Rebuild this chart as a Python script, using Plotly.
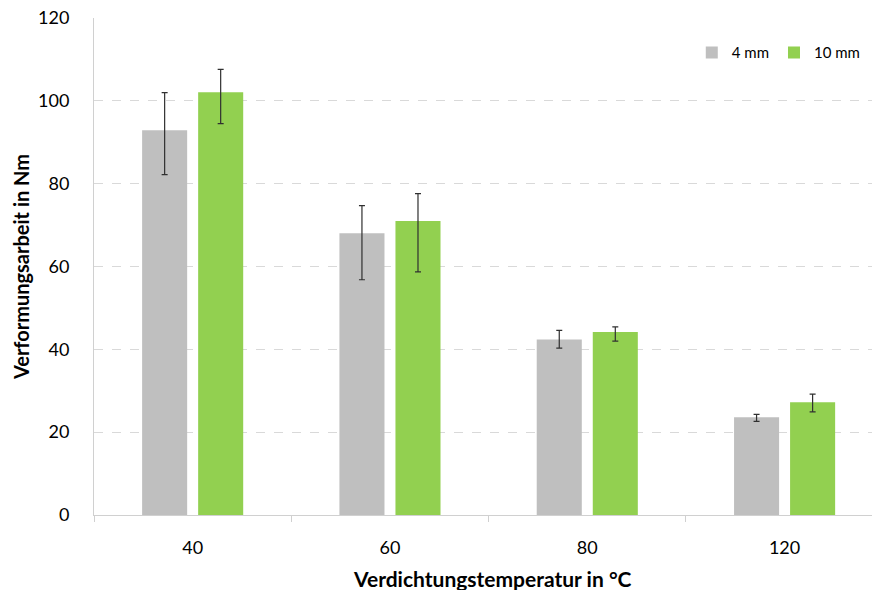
import plotly.graph_objects as go

categories = ["40", "60", "80", "120"]
series_names = ["4 mm", "10 mm"]
values_4mm = [92.9, 68.0, 42.4, 23.6]
err_plus_4mm = [9.1, 6.7, 2.2, 0.7]
err_minus_4mm = [10.7, 11.2, 2.1, 1.0]
values_10mm = [102.1, 71.0, 44.2, 27.2]
err_plus_10mm = [5.5, 6.6, 1.2, 2.0]
err_minus_10mm = [7.6, 12.3, 2.2, 2.3]
colors = ["#BFBFBF", "#92D050"]
x_title = "Verdichtungstemperatur in °C"
y_title = "Verformungsarbeit in Nm"

font_family = "Lato, 'Open Sans', sans-serif"

fig = go.Figure()
for name, vals, ep, em, col in [
    (series_names[0], values_4mm, err_plus_4mm, err_minus_4mm, colors[0]),
    (series_names[1], values_10mm, err_plus_10mm, err_minus_10mm, colors[1]),
]:
    fig.add_trace(go.Bar(
        x=categories, y=vals, name=name,
        marker=dict(color=col, line=dict(width=0)),
        error_y=dict(type="data", symmetric=False, array=ep, arrayminus=em,
                     color="#303030", thickness=1.2, width=3),
    ))

fig.update_layout(
    width=872, height=590,
    margin=dict(l=94, r=0, t=18, b=75),
    paper_bgcolor="white", plot_bgcolor="white",
    barmode="group", bargap=0.432, bargroupgap=0.196,
    font=dict(family=font_family, color="#000000"),
    showlegend=True,
    legend=dict(orientation="h", x=0.992, xanchor="right", y=0.93, yanchor="middle",
                font=dict(size=15, color="#000000"), bgcolor="rgba(0,0,0,0)",
                itemwidth=30, traceorder="normal"),
    xaxis=dict(
        type="category", range=[-0.5, 3.443],
        showline=True, linecolor="#D0D0D0", linewidth=1,
        ticks="outside", tickson="boundaries", ticklen=6, tickcolor="#D0D0D0",
        tickfont=dict(size=18, color="#000000"), showgrid=False,
        ticklabelstandoff=16, automargin=False,
    ),
    yaxis=dict(
        range=[0, 120], dtick=20, showline=True, linecolor="#D0D0D0", linewidth=1,
        showgrid=True, gridcolor="#D9D9D9", griddash="dash", gridwidth=1,
        zeroline=False, ticks="", tickfont=dict(size=18, color="#000000"),
        ticklabelstandoff=20, automargin=False, ticklabeloverflow="allow",
        title=dict(text="<b>" + y_title + "</b>", font=dict(size=20), standoff=3),
    ),
    annotations=[dict(
        text="<b>" + x_title + "</b>", xref="paper", yref="paper",
        x=0.5116, y=-0.1268, xanchor="center", yanchor="middle",
        showarrow=False, font=dict(size=21, color="#000000"),
    )],
)

fig.write_html("out.html", config={"displayModeBar": False},
               post_script="document.body.style.margin='0';")
